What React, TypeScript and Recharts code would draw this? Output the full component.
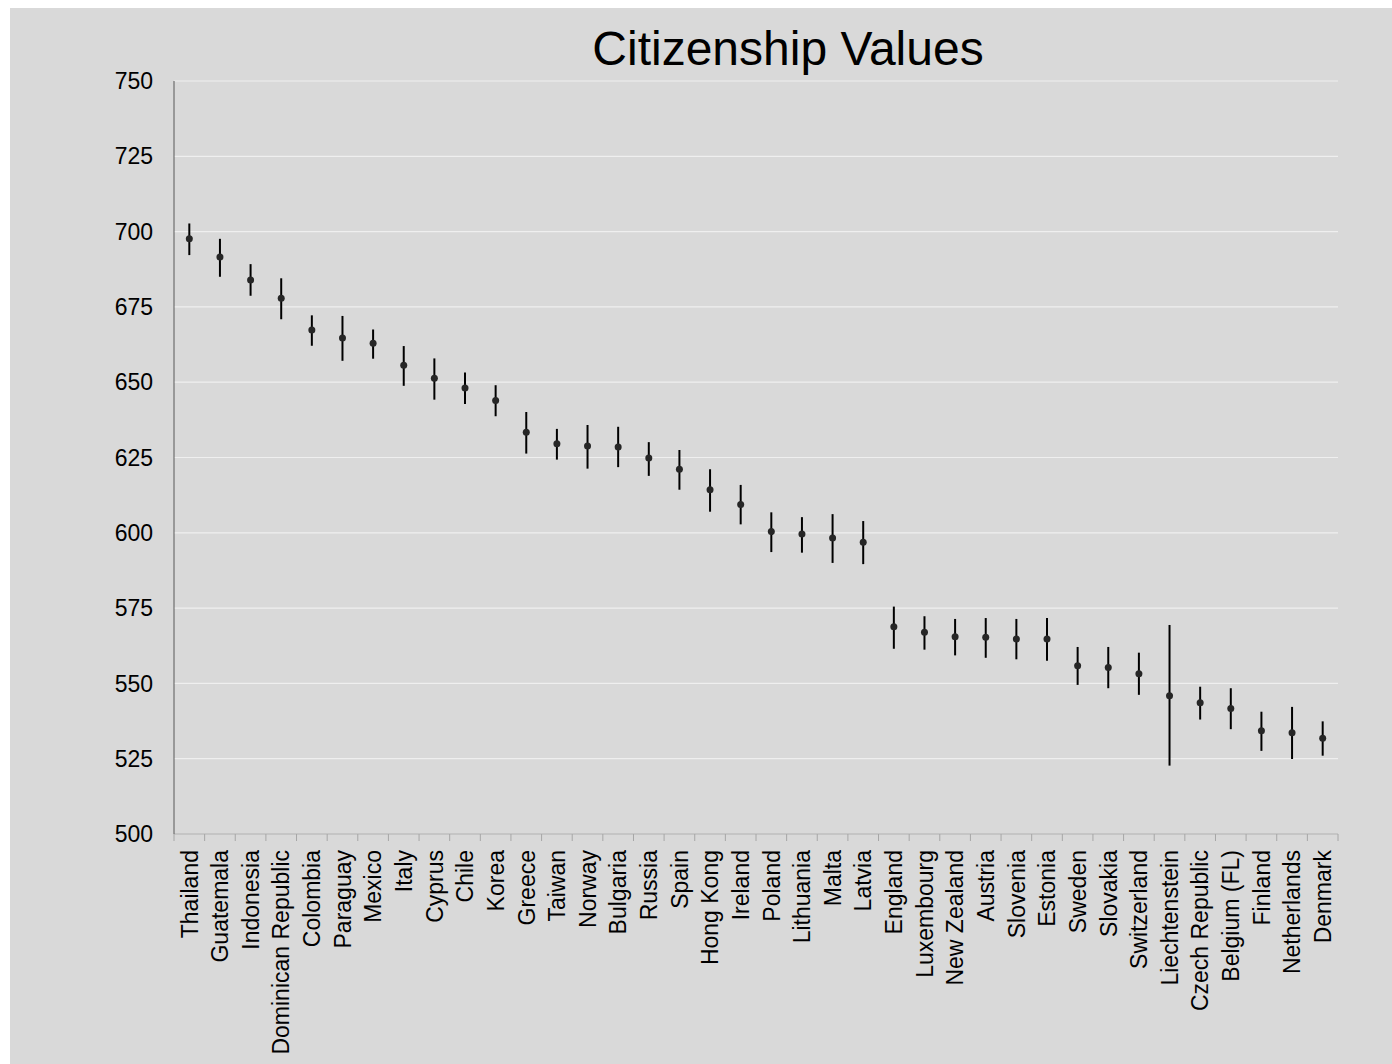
import React from 'react';
import { ComposedChart, Line, ErrorBar, XAxis, YAxis, CartesianGrid } from 'recharts';

// Mean citizenship score per country, with the lower and upper ends of its interval
const countries = [
  'Thailand', 'Guatemala', 'Indonesia', 'Dominican Republic', 'Colombia', 'Paraguay', 'Mexico',
  'Italy', 'Cyprus', 'Chile', 'Korea', 'Greece', 'Taiwan', 'Norway', 'Bulgaria', 'Russia', 'Spain',
  'Hong Kong', 'Ireland', 'Poland', 'Lithuania', 'Malta', 'Latvia', 'England', 'Luxembourg',
  'New Zealand', 'Austria', 'Slovenia', 'Estonia', 'Sweden', 'Slovakia', 'Switzerland',
  'Liechtenstein', 'Czech Republic', 'Belgium (FL)', 'Finland', 'Netherlands', 'Denmark',
];

const means = [
  697.6, 691.6, 683.9, 677.9, 667.3, 664.7, 662.9, 655.6, 651.3, 648.1, 643.9, 633.4, 629.6,
  628.8, 628.5, 624.8, 621.1, 614.3, 609.4, 600.4, 599.6, 598.3, 596.9, 568.8, 567.0, 565.5,
  565.3, 564.7, 564.7, 555.9, 555.3, 553.2, 545.9, 543.6, 541.7, 534.3, 533.6, 531.8,
];

const lows = [
  692.2, 685.0, 678.7, 670.9, 662.1, 657.1, 657.8, 648.8, 644.2, 642.8, 638.7, 626.3, 624.3,
  621.3, 621.8, 618.9, 614.3, 607.0, 602.8, 593.6, 593.4, 590.0, 589.6, 561.5, 561.2, 559.3,
  558.5, 558.0, 557.5, 549.5, 548.4, 546.2, 522.7, 538.0, 534.8, 527.6, 524.9, 526.0,
];

const highs = [
  702.7, 697.6, 689.2, 684.5, 672.2, 672.0, 667.5, 662.0, 657.9, 653.2, 649.0, 640.1, 634.5,
  635.8, 635.2, 630.1, 627.5, 621.1, 615.9, 606.8, 605.2, 606.2, 603.9, 575.5, 572.3, 571.4,
  571.7, 571.4, 571.7, 562.1, 562.1, 560.2, 569.4, 548.9, 548.4, 540.6, 542.2, 537.4,
];

const yTicks = [500, 525, 550, 575, 600, 625, 650, 675, 700, 725, 750];

const FONT = '"Liberation Sans", Arial, Helvetica, sans-serif';

const data = countries.map((country, i) => ({
  country,
  mean: means[i],
  err: [means[i] - lows[i], highs[i] - means[i]],
}));

// Category label rotated upward, with tick marks drawn on the category boundaries
const CategoryTick = (props: any) => {
  const { x, y, payload, index, visibleTicksCount } = props;
  const half = payload && typeof payload.offset === 'number' && payload.offset > 0 ? payload.offset : 15.3;
  const isLast = index === (visibleTicksCount ?? countries.length) - 1 || payload?.value === countries[countries.length - 1];
  const ly = y + 16;
  return (
    <g>
      <line x1={x - half} x2={x - half} y1={y} y2={y + 7} stroke="#a6a6a6" strokeWidth={1} />
      {isLast && <line x1={x + half} x2={x + half} y1={y} y2={y + 7} stroke="#a6a6a6" strokeWidth={1} />}
      <text
        x={x}
        y={ly}
        dy="0.36em"
        transform={`rotate(-90, ${x}, ${ly})`}
        textAnchor="end"
        fontSize={23}
        fontFamily={FONT}
        fill="#000"
      >
        {payload.value}
      </text>
    </g>
  );
};

export default function App() {
  return (
    <div
      style={{
        position: 'fixed',
        left: 10,
        top: 8,
        width: 1382,
        height: 1056,
        background: '#d9d9d9',
        fontFamily: FONT,
      }}
    >
      <ComposedChart
        width={1382}
        height={1056}
        data={data}
        margin={{ top: 73, right: 54, left: 104, bottom: 0 }}
      >
        <CartesianGrid vertical={false} stroke="#efefef" strokeWidth={1.2} />
        <XAxis
          dataKey="country"
          scale="band"
          interval={0}
          height={230}
          tickSize={0}
          tickMargin={0}
          tickLine={false}
          axisLine={{ stroke: '#a6a6a6', strokeWidth: 1 }}
          tick={<CategoryTick />}
        />
        <YAxis
          domain={[500, 750]}
          ticks={yTicks}
          width={60}
          tickSize={0}
          tickMargin={21}
          tickLine={false}
          axisLine={{ stroke: '#595959', strokeWidth: 1 }}
          tick={{ fontSize: 23, fill: '#000', fontFamily: FONT }}
        />
        <Line
          dataKey="mean"
          stroke="none"
          isAnimationActive={false}
          dot={{ r: 3.5, fill: '#262626', stroke: 'none' }}
          activeDot={false}
        >
          <ErrorBar dataKey="err" direction="y" width={0} stroke="#000" strokeWidth={2} isAnimationActive={false} />
        </Line>
      </ComposedChart>
      <svg
        width={1382}
        height={100}
        style={{ position: 'absolute', left: 0, top: 0, pointerEvents: 'none' }}
      >
        <text x={778} y={57} textAnchor="middle" fontSize={48} fontFamily={FONT} fill="#000">
          Citizenship Values
        </text>
      </svg>
    </div>
  );
}
